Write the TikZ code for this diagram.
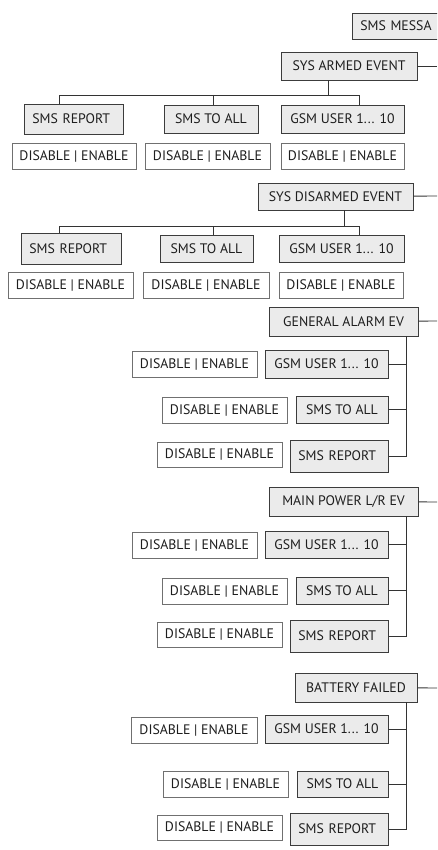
\documentclass[tikz,border=0pt]{standalone}
\usepackage{fontspec}
\setmainfont{PT Sans}
\definecolor{gfill}{HTML}{EBEBEB}
\definecolor{gline}{HTML}{3C3C3C}
\definecolor{wline}{HTML}{707070}
\definecolor{cline}{HTML}{333333}
\definecolor{tcol}{HTML}{1E1E1E}
\tikzset{
  gbox/.style={draw=gline, fill=gfill, line width=0.8pt, inner sep=0pt, text=tcol, font=\fontsize{13.8}{15}\selectfont},
  wbox/.style={draw=wline, fill=white, line width=0.7pt, inner sep=0pt, text=tcol, font=\fontsize{13.8}{15}\selectfont},
  conn/.style={draw=cline, line width=0.9pt},
}
\newcommand\mkbox[7]{\node[#1,minimum width={(#5-#3)*1pt},minimum height={(#6-#4)*1pt}] (#2) at ({(#3+#5)/2},{(#4+#6)/2}) {#7};}
\newcommand\mkleft[6]{\node[gbox,anchor=west,inner xsep=8pt,text width={(#4-#2-16)*1pt},align=left,minimum height={(#5-#3)*1pt}] (#1) at (#2,{(#3+#5)/2}) {#6};}
\begin{document}
\begin{tikzpicture}[x=1pt,y=-1pt]
\useasboundingbox (0,0) rectangle (437,850);
\clip (0,0) rectangle (437,850);
\fill[white] (0,0) rectangle (437,850);
% top
\node[gbox,anchor=west,inner xsep=8pt,text width=110pt,align=left,minimum height=26pt] (msg) at (352,26) {SMS MESSA};
% group 1
\mkbox{gbox}{armed}{281}{52}{417}{80}{SYS ARMED EVENT}
\mkleft{a1}{24}{104}{123}{134}{SMS REPORT}
\mkbox{gbox}{a2}{164}{105}{258}{133}{SMS TO ALL}
\mkbox{gbox}{a3}{281}{105}{404}{133}{GSM USER 1... 10}
\mkbox{wbox}{ad1}{12}{143}{136}{169}{DISABLE | ENABLE}
\mkbox{wbox}{ad2}{145}{143}{270}{169}{DISABLE | ENABLE}
\mkbox{wbox}{ad3}{281}{143}{404}{169}{DISABLE | ENABLE}
\coordinate (ae) at (437,66);
\coordinate (ab) at (328,95);
\coordinate (ab1) at (59,95);
\coordinate (ab2) at (213,95);
\coordinate (ab3) at (359,95);
\draw[conn] (armed) -- (ae);
\draw[conn] (ab |- armed.south) -- (ab);
\draw[conn] (ab1 |- a1.north) -- (ab1) -- (ab3) -- (ab3 |- a3.north);
\draw[conn] (ab2) -- (ab2 |- a2.north);
% group 2
\mkbox{gbox}{disarmed}{258}{183}{413}{210}{SYS DISARMED EVENT}
\mkleft{d1}{21}{233}{121}{264}{SMS REPORT}
\mkbox{gbox}{d2}{160}{235}{253}{262}{SMS TO ALL}
\mkbox{gbox}{d3}{279}{235}{404}{262}{GSM USER 1... 10}
\mkbox{wbox}{dd1}{8}{272}{133}{298}{DISABLE | ENABLE}
\mkbox{wbox}{dd2}{143}{272}{269}{298}{DISABLE | ENABLE}
\mkbox{wbox}{dd3}{279}{272}{403}{298}{DISABLE | ENABLE}
\coordinate (de) at (437,196);
\coordinate (db) at (344,226);
\coordinate (db1) at (59,226);
\coordinate (db2) at (213,226);
\coordinate (db3) at (359,226);
\draw[conn] (disarmed) -- (de);
\draw[conn] (db |- disarmed.south) -- (db);
\draw[conn] (db1 |- d1.north) -- (db1) -- (db3) -- (db3 |- d3.north);
\draw[conn] (db2) -- (db2 |- d2.north);
% group 3
\mkbox{gbox}{general}{269}{307}{418}{336}{GENERAL ALARM EV}
\mkbox{gbox}{g1}{265}{350}{388}{378}{GSM USER 1... 10}
\mkbox{gbox}{g2}{296}{396}{388}{423}{SMS TO ALL}
\mkleft{g3}{290}{440}{388}{472}{SMS REPORT}
\mkbox{wbox}{gd1}{132}{351}{257}{377}{DISABLE | ENABLE}
\mkbox{wbox}{gd2}{162}{397}{287}{423}{DISABLE | ENABLE}
\mkbox{wbox}{gd3}{157}{442}{282}{467}{DISABLE | ENABLE}
\coordinate (ge) at (437,321);
\coordinate (gv) at (406,336);
\draw[conn] (general) -- (ge);
\draw[conn] (gv |- general.south) -- (gv |- g3.east) -- (g3.east);
\draw[conn] (g1.east) -- (g1.east -| gv);
\draw[conn] (g2.east) -- (g2.east -| gv);
% group 4
\mkbox{gbox}{mainp}{269}{487}{418}{516}{MAIN POWER L/R EV}
\mkbox{gbox}{m1}{265}{531}{388}{558}{GSM USER 1... 10}
\mkbox{gbox}{m2}{296}{577}{388}{604}{SMS TO ALL}
\mkleft{m3}{290}{620}{388}{652}{SMS REPORT}
\mkbox{wbox}{md1}{132}{532}{257}{558}{DISABLE | ENABLE}
\mkbox{wbox}{md2}{162}{578}{287}{604}{DISABLE | ENABLE}
\mkbox{wbox}{md3}{157}{622}{282}{647}{DISABLE | ENABLE}
\coordinate (me) at (437,502);
\coordinate (mv) at (406,516);
\draw[conn] (mainp) -- (me);
\draw[conn] (mv |- mainp.south) -- (mv |- m3.east) -- (m3.east);
\draw[conn] (m1.east) -- (m1.east -| mv);
\draw[conn] (m2.east) -- (m2.east -| mv);
% group 5
\mkbox{gbox}{batt}{295}{673}{417}{702}{BATTERY FAILED}
\mkbox{gbox}{b1}{265}{715}{388}{743}{GSM USER 1... 10}
\mkbox{gbox}{b2}{297}{771}{388}{797}{SMS TO ALL}
\mkleft{b3}{290}{813}{388}{845}{SMS REPORT}
\mkbox{wbox}{bd1}{131}{717}{257}{743}{DISABLE | ENABLE}
\mkbox{wbox}{bd2}{163}{771}{288}{797}{DISABLE | ENABLE}
\mkbox{wbox}{bd3}{157}{815}{282}{840}{DISABLE | ENABLE}
\coordinate (be) at (437,688);
\coordinate (bv) at (406,702);
\draw[conn] (batt) -- (be);
\draw[conn] (bv |- batt.south) -- (bv |- b3.east) -- (b3.east);
\draw[conn] (b1.east) -- (b1.east -| bv);
\draw[conn] (b2.east) -- (b2.east -| bv);
\end{tikzpicture}
\end{document}
